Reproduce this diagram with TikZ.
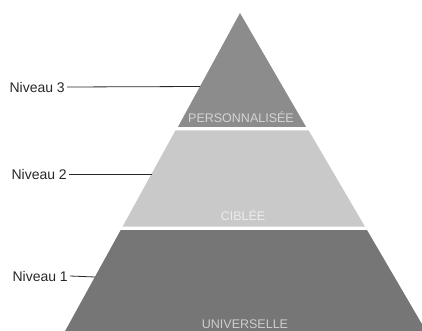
\documentclass[tikz,border=0pt]{standalone}
\usepackage{fontspec}
\setmainfont{Liberation Sans}
\usetikzlibrary{positioning}
\definecolor{PYtop}{RGB}{140,140,140}
\definecolor{PYmid}{RGB}{201,201,201}
\definecolor{PYbot}{RGB}{118,118,118}
\definecolor{PYtxt}{RGB}{40,40,40}
\definecolor{PYtopT}{RGB}{212,212,212}
\definecolor{PYmidT}{RGB}{236,236,236}
\definecolor{PYbotT}{RGB}{205,205,205}

\tikzset{
  niveau/.style={anchor=east,inner sep=2pt,text=PYtxt,font=\fontsize{14}{16}\selectfont},
  couche/.style={inner sep=0pt,text=#1,font=\fontsize{12.5}{14}\selectfont},
  trait/.style={PYtxt,line width=0.8pt}
}

\begin{document}
\begin{tikzpicture}[x=1pt,y=-1pt]
    \useasboundingbox (0,0) rectangle (422,331);
    \clip (0,0) rectangle (422,331);
    % the three layers
    \fill[PYtop] (240,13)--(306.1,127)--(177.9,127)--cycle;
    \fill[PYmid] (175.4,130.5)--(308.7,130.5)--(364.9,226.5)--(122.6,226.5)--cycle;
    \fill[PYbot] (120.7,230)--(367,230)--(426,331)--(65.1,331)--cycle;
    \node[couche=PYtopT] (perso) at (241,117) {PERSONNALISÉE};
    \node[couche=PYmidT] (ciblee) at (243,215) {CIBLÉE};
    \node[couche=PYbotT] (univ) at (245,324) {UNIVERSELLE};
    % levels on the left
    \coordinate (e3) at (200,86.5);
    \coordinate (e2) at (152,174);
    \coordinate (e1) at (95,277);
    \node[niveau] (niv3) at (67,87) {Niveau 3};
    \node[niveau] (niv2) at (69,174) {Niveau 2};
    \node[niveau] (niv1) at (70,276) {Niveau 1};
    \foreach \n in {1,2,3}{\draw[trait] (niv\n.east)--(e\n);}
  \end{tikzpicture}
\end{document}
